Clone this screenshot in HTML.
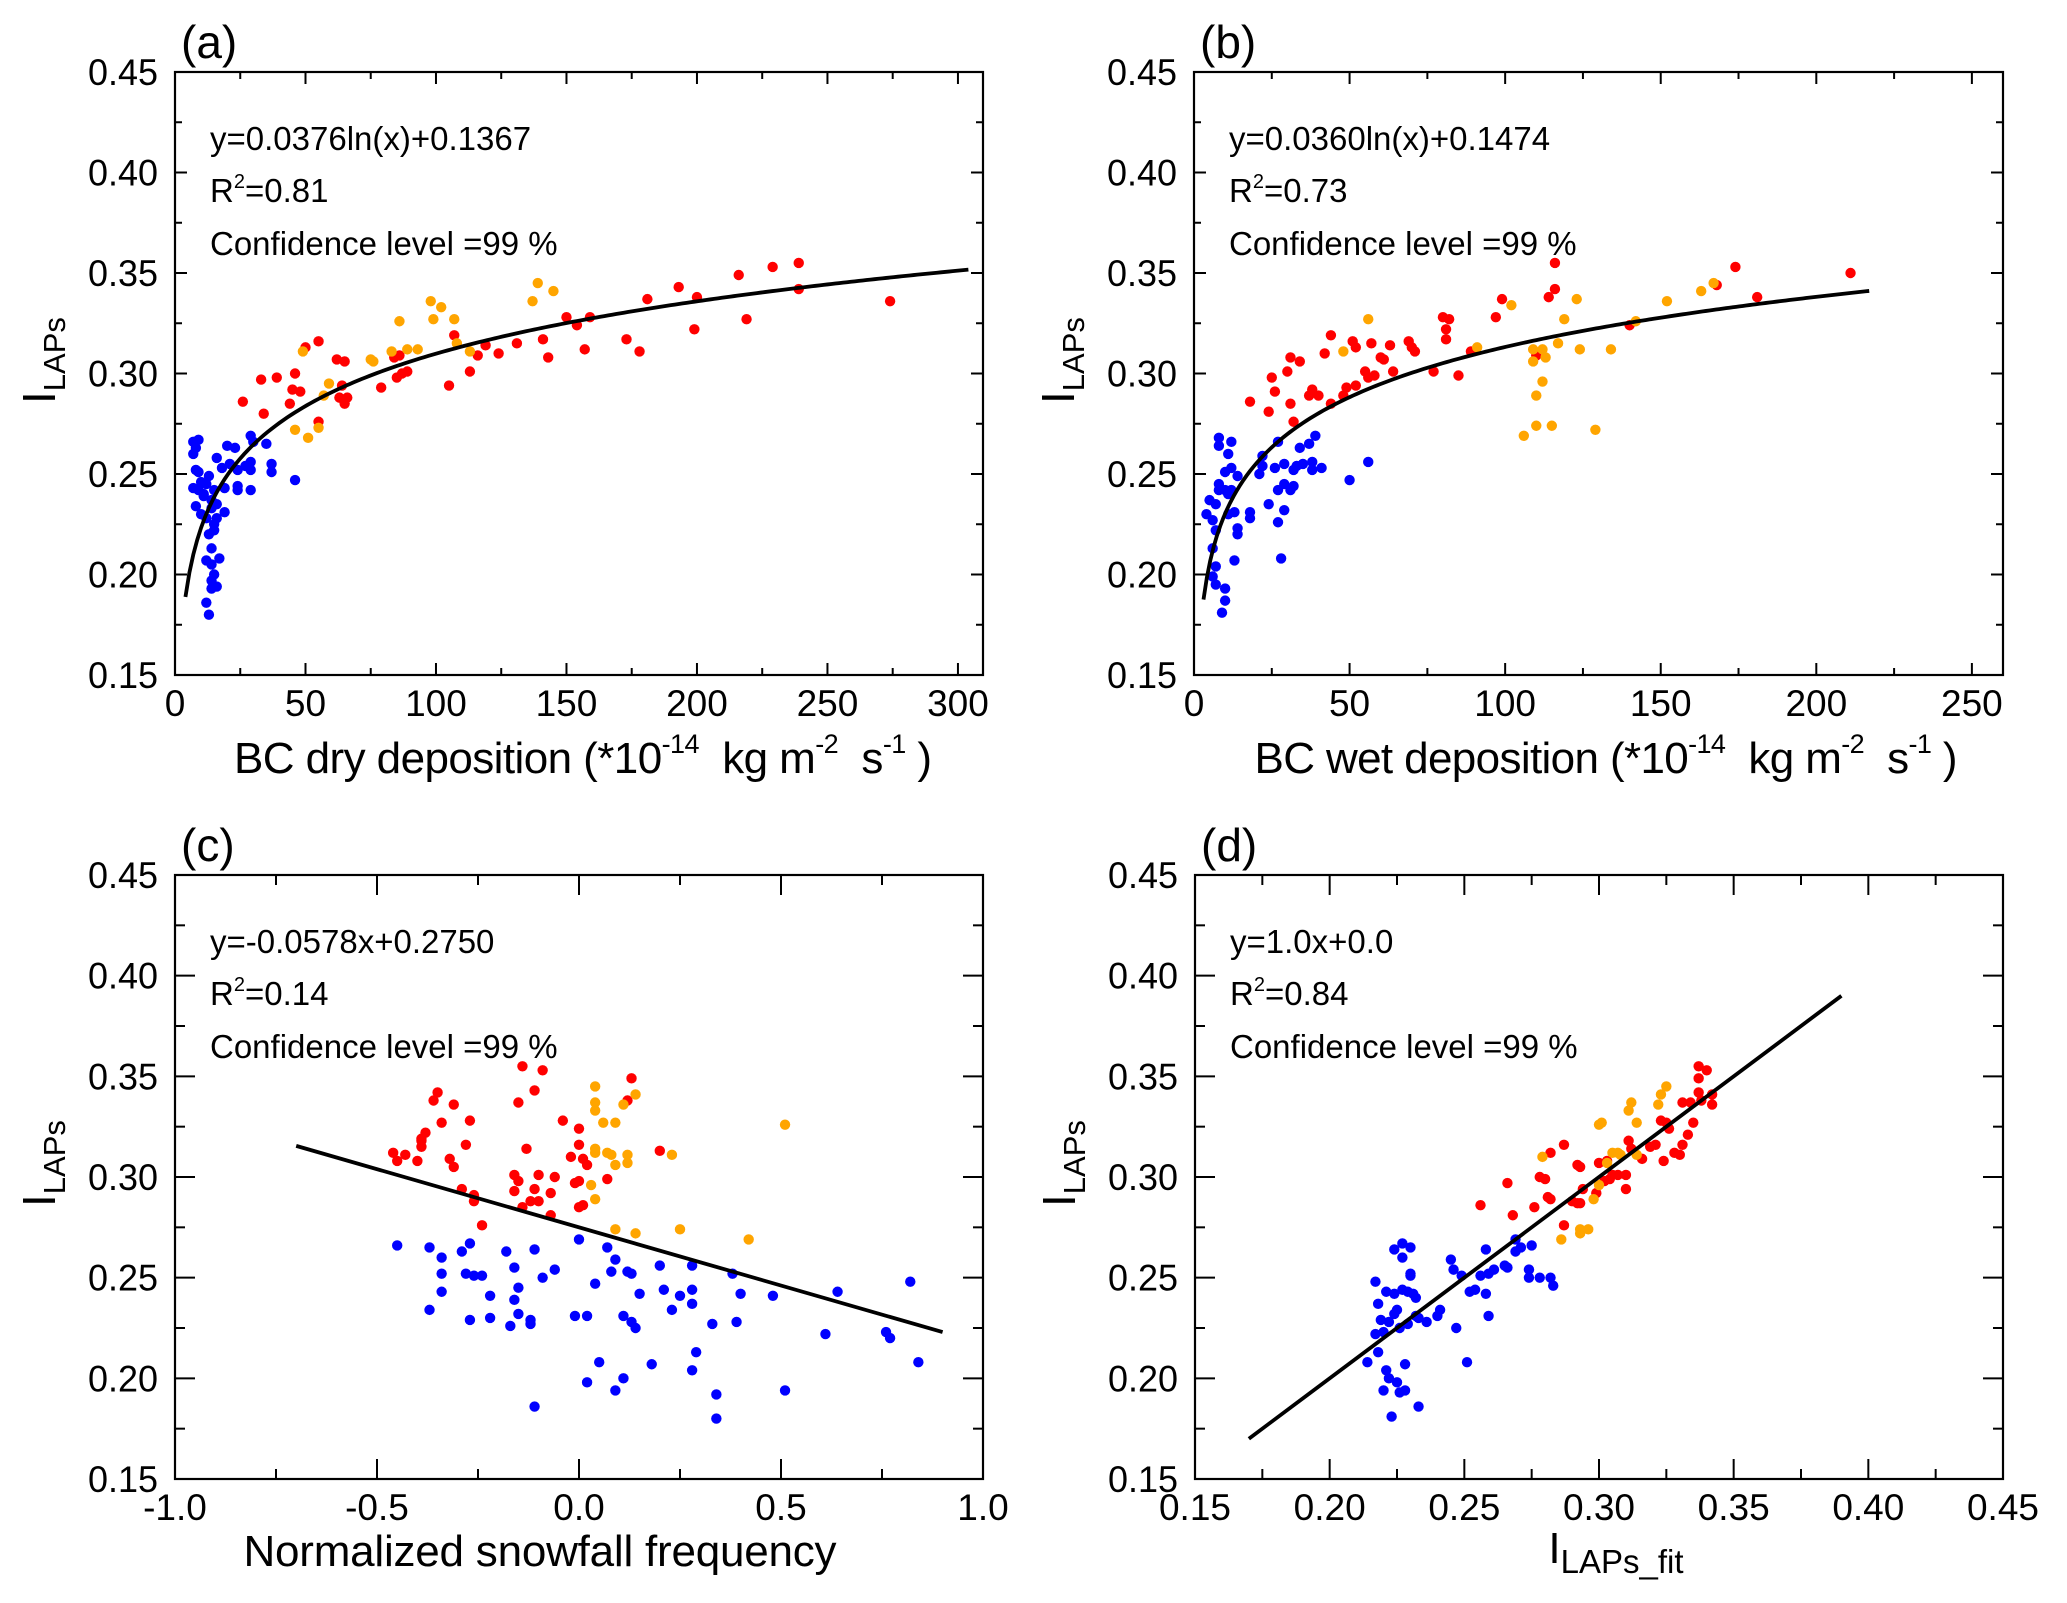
<!DOCTYPE html>
<html><head><meta charset="utf-8"><title>ILAPs scatter panels</title>
<style>html,body{margin:0;padding:0;background:#fff}svg{display:block}text{font-family:"Liberation Sans",Arial,sans-serif;fill:#000}</style>
</head><body>
<svg id="fig" xmlns="http://www.w3.org/2000/svg" width="2067" height="1603" viewBox="0 0 2067 1603"></svg>
<script>
// ---------- DATA ----------
const aBlue=[[7,0.266],[9,0.267],[8,0.263],[7,0.260],[8,0.252],[9,0.251],[7,0.243],[9,0.242],[11,0.240],[8,0.234],[10,0.230],[12,0.245],[13,0.249],[14,0.237],[12,0.228],[14,0.233],[15,0.225],[15,0.222],[13,0.220],[16,0.228],[14,0.213],[12,0.207],[14,0.205],[15,0.200],[14,0.197],[16,0.194],[14,0.193],[12,0.186],[13,0.180],[17,0.208],[16,0.258],[18,0.253],[19,0.243],[19,0.231],[20,0.264],[21,0.255],[23,0.263],[24,0.252],[24,0.244],[24,0.242],[27,0.254],[29,0.269],[29,0.256],[29,0.252],[29,0.242],[30,0.266],[35,0.265],[37,0.255],[37,0.251],[46,0.247],[15,0.242],[16,0.235],[10,0.246],[11,0.239]];
const aRed=[[26,0.286],[33,0.297],[34,0.280],[39,0.298],[44,0.285],[45,0.292],[46,0.300],[48,0.291],[50,0.313],[55,0.316],[55,0.276],[62,0.307],[63,0.288],[64,0.294],[65,0.306],[65,0.285],[66,0.288],[79,0.293],[85,0.298],[86,0.309],[87,0.300],[89,0.301],[84,0.308],[105,0.294],[107,0.319],[113,0.301],[116,0.309],[119,0.314],[124,0.310],[131,0.315],[141,0.317],[143,0.308],[150,0.328],[154,0.324],[157,0.312],[159,0.328],[173,0.317],[178,0.311],[181,0.337],[193,0.343],[199,0.322],[200,0.338],[216,0.349],[219,0.327],[229,0.353],[239,0.355],[239,0.342],[274,0.336]];
const aOrange=[[46,0.272],[49,0.311],[51,0.268],[55,0.273],[57,0.289],[59,0.295],[75,0.307],[76,0.306],[83,0.311],[86,0.326],[89,0.312],[93,0.312],[98,0.336],[99,0.327],[102,0.333],[107,0.327],[108,0.315],[113,0.311],[137,0.336],[139,0.345],[145,0.341]];
const aFit=[0.0376,0.1367,4,304];
const aXTicks=[0,50,100,150,200,250,300];
const bBlue=[[4,0.230],[5,0.237],[6,0.227],[6,0.213],[7,0.235],[8,0.268],[8,0.264],[8,0.245],[8,0.242],[7,0.222],[7,0.204],[6,0.199],[7,0.195],[10,0.193],[10,0.187],[9,0.181],[10,0.251],[10,0.242],[11,0.260],[12,0.266],[11,0.240],[11,0.230],[12,0.253],[12,0.242],[13,0.231],[14,0.220],[14,0.223],[13,0.207],[14,0.249],[18,0.228],[18,0.231],[21,0.250],[22,0.254],[22,0.259],[24,0.235],[26,0.253],[27,0.266],[27,0.242],[27,0.226],[28,0.208],[29,0.255],[29,0.232],[29,0.245],[31,0.242],[32,0.244],[32,0.252],[33,0.254],[34,0.263],[35,0.255],[37,0.265],[38,0.256],[38,0.252],[39,0.269],[41,0.253],[50,0.247],[56,0.256]];
const bRed=[[18,0.286],[24,0.281],[25,0.298],[26,0.291],[30,0.301],[31,0.308],[31,0.285],[32,0.276],[34,0.306],[37,0.289],[38,0.292],[40,0.289],[42,0.310],[44,0.285],[44,0.319],[48,0.289],[49,0.293],[51,0.316],[52,0.294],[52,0.313],[55,0.301],[56,0.298],[57,0.315],[58,0.299],[60,0.308],[61,0.307],[63,0.314],[64,0.301],[69,0.316],[70,0.313],[71,0.311],[77,0.301],[80,0.328],[81,0.322],[81,0.317],[82,0.327],[85,0.299],[89,0.311],[97,0.328],[99,0.337],[110,0.309],[114,0.338],[116,0.355],[116,0.342],[140,0.324],[168,0.344],[174,0.353],[181,0.338],[211,0.350]];
const bOrange=[[48,0.311],[56,0.327],[91,0.313],[102,0.334],[106,0.269],[109,0.306],[109,0.312],[110,0.274],[110,0.289],[112,0.296],[112,0.312],[113,0.308],[115,0.274],[117,0.315],[119,0.327],[123,0.337],[124,0.312],[129,0.272],[134,0.312],[142,0.326],[152,0.336],[163,0.341],[167,0.345]];
const bFit=[0.0360,0.1474,3.05,217];
const bXTicks=[0,50,100,150,200,250];
const cBlue=[[-0.45,0.266],[-0.37,0.265],[-0.34,0.260],[-0.34,0.252],[-0.34,0.243],[-0.37,0.234],[-0.29,0.263],[-0.27,0.267],[-0.28,0.252],[-0.26,0.251],[-0.24,0.251],[-0.27,0.229],[-0.22,0.241],[-0.22,0.230],[-0.18,0.263],[-0.16,0.255],[-0.16,0.239],[-0.15,0.245],[-0.17,0.226],[-0.15,0.232],[-0.12,0.229],[-0.12,0.227],[-0.11,0.264],[-0.09,0.250],[-0.06,0.254],[-0.11,0.186],[-0.01,0.231],[0.00,0.269],[0.02,0.231],[0.04,0.247],[0.02,0.198],[0.05,0.208],[0.07,0.265],[0.09,0.259],[0.08,0.253],[0.09,0.194],[0.11,0.200],[0.11,0.231],[0.12,0.253],[0.13,0.252],[0.13,0.228],[0.14,0.225],[0.15,0.242],[0.18,0.207],[0.20,0.256],[0.21,0.244],[0.23,0.234],[0.25,0.241],[0.28,0.256],[0.28,0.244],[0.28,0.237],[0.28,0.204],[0.29,0.213],[0.33,0.227],[0.34,0.192],[0.34,0.180],[0.38,0.252],[0.40,0.242],[0.39,0.228],[0.48,0.241],[0.51,0.194],[0.61,0.222],[0.64,0.243],[0.76,0.223],[0.77,0.220],[0.82,0.248],[0.84,0.208]];
const cRed=[[-0.46,0.312],[-0.45,0.308],[-0.43,0.311],[-0.40,0.308],[-0.39,0.318],[-0.39,0.319],[-0.39,0.315],[-0.38,0.322],[-0.36,0.338],[-0.35,0.342],[-0.34,0.327],[-0.32,0.309],[-0.31,0.305],[-0.31,0.336],[-0.28,0.316],[-0.27,0.328],[-0.29,0.294],[-0.26,0.291],[-0.26,0.288],[-0.24,0.276],[-0.16,0.301],[-0.15,0.298],[-0.16,0.293],[-0.15,0.337],[-0.14,0.355],[-0.14,0.285],[-0.13,0.314],[-0.12,0.288],[-0.11,0.294],[-0.11,0.343],[-0.10,0.288],[-0.10,0.301],[-0.09,0.353],[-0.07,0.292],[-0.07,0.281],[-0.06,0.300],[-0.04,0.328],[-0.02,0.310],[-0.01,0.297],[0.00,0.285],[0.00,0.324],[0.00,0.298],[0.00,0.316],[0.01,0.309],[0.01,0.286],[0.02,0.306],[0.07,0.299],[0.12,0.338],[0.13,0.349],[0.20,0.313]];
const cOrange=[[0.03,0.296],[0.04,0.312],[0.04,0.289],[0.04,0.337],[0.04,0.333],[0.04,0.345],[0.04,0.314],[0.06,0.327],[0.07,0.312],[0.08,0.311],[0.09,0.327],[0.09,0.306],[0.09,0.274],[0.11,0.336],[0.12,0.307],[0.12,0.311],[0.14,0.272],[0.14,0.341],[0.23,0.311],[0.25,0.274],[0.42,0.269],[0.51,0.326]];
const cFit=[-0.0578,0.2750,-0.7,0.9];
const cXTicks=[-1.0,-0.5,0.0,0.5,1.0];
const dBlue=[[0.214,0.208],[0.217,0.222],[0.218,0.213],[0.217,0.248],[0.218,0.237],[0.219,0.229],[0.220,0.223],[0.220,0.194],[0.221,0.243],[0.221,0.204],[0.222,0.200],[0.222,0.228],[0.223,0.181],[0.224,0.242],[0.224,0.232],[0.224,0.264],[0.225,0.234],[0.225,0.198],[0.226,0.193],[0.226,0.225],[0.227,0.244],[0.227,0.267],[0.227,0.260],[0.228,0.207],[0.228,0.194],[0.229,0.243],[0.229,0.227],[0.230,0.251],[0.230,0.252],[0.230,0.265],[0.231,0.242],[0.232,0.240],[0.232,0.231],[0.233,0.186],[0.233,0.230],[0.236,0.228],[0.240,0.231],[0.241,0.234],[0.245,0.259],[0.246,0.254],[0.247,0.225],[0.249,0.251],[0.251,0.208],[0.252,0.243],[0.254,0.244],[0.256,0.251],[0.258,0.242],[0.258,0.264],[0.259,0.231],[0.259,0.252],[0.261,0.254],[0.265,0.256],[0.266,0.255],[0.269,0.269],[0.269,0.263],[0.271,0.265],[0.274,0.254],[0.274,0.250],[0.275,0.266],[0.278,0.250],[0.282,0.250],[0.283,0.246]];
const dRed=[[0.256,0.286],[0.266,0.297],[0.268,0.281],[0.276,0.285],[0.278,0.300],[0.280,0.299],[0.281,0.290],[0.282,0.312],[0.282,0.289],[0.287,0.316],[0.287,0.276],[0.290,0.288],[0.292,0.287],[0.292,0.306],[0.293,0.305],[0.293,0.287],[0.294,0.294],[0.299,0.292],[0.300,0.307],[0.302,0.298],[0.303,0.308],[0.304,0.299],[0.305,0.301],[0.307,0.301],[0.310,0.301],[0.310,0.294],[0.311,0.318],[0.312,0.314],[0.316,0.309],[0.319,0.315],[0.321,0.316],[0.323,0.328],[0.324,0.308],[0.325,0.327],[0.326,0.324],[0.328,0.312],[0.330,0.311],[0.331,0.316],[0.331,0.337],[0.333,0.321],[0.334,0.337],[0.335,0.327],[0.337,0.342],[0.337,0.349],[0.337,0.355],[0.338,0.338],[0.340,0.353],[0.342,0.341],[0.342,0.336]];
const dOrange=[[0.279,0.310],[0.286,0.269],[0.293,0.272],[0.293,0.274],[0.296,0.274],[0.298,0.289],[0.300,0.296],[0.300,0.326],[0.301,0.327],[0.303,0.307],[0.305,0.312],[0.307,0.312],[0.308,0.311],[0.311,0.333],[0.312,0.337],[0.314,0.327],[0.314,0.311],[0.322,0.336],[0.323,0.341],[0.325,0.345]];
const dFit=[1.0,0.0,0.17,0.39];
const dXTicks=[0.15,0.20,0.25,0.30,0.35,0.40,0.45];
const yTicks=[0.15,0.20,0.25,0.30,0.35,0.40,0.45];

// ---------- DRAWING ----------
const NS="http://www.w3.org/2000/svg";
const svg=document.getElementById('fig');
function mk(tag,attrs,parent){const e=document.createElementNS(NS,tag);for(const k in attrs)e.setAttribute(k,attrs[k]);(parent||svg).appendChild(e);return e;}

function panel(o){
  const g=mk('g',{});
  
  
  const sx=v=>o.L+(v-o.x0)/(o.x1-o.x0)*(o.R-o.L);
  const sy=v=>o.B-(v-0.15)/(0.30)*(o.B-o.T);
  const tg=mk('g',{stroke:'#000','stroke-width':2},g);
  
  
  const xs=o.xTicks, step=xs[1]-xs[0];
  for(let i=0;i<xs.length;i++){
    for(const v of [xs[i], xs[i]+step/2]){
      if(v>o.x1+1e-9) continue;
      const maj=(v===xs[i]);const len=maj?o.maj:o.min;const X=sx(v);
      mk('line',{x1:X,y1:o.B,x2:X,y2:o.B-len},tg);
      mk('line',{x1:X,y1:o.T,x2:X,y2:o.T+len},tg);
    }
  }
  for(let i=0;i<yTicks.length;i++){
    for(const v of [yTicks[i], yTicks[i]+0.025]){
      if(v>0.45+1e-9) continue;
      const maj=(v===yTicks[i]);const len=maj?o.maj:o.min;const Y=sy(v);
      mk('line',{x1:o.L,y1:Y,x2:o.L+len,y2:Y},tg);
      mk('line',{x1:o.R,y1:Y,x2:o.R-len,y2:Y},tg);
    }
  }
  yTicks.forEach(v=>{const t=mk('text',{x:o.L-17,y:sy(v)+13,'text-anchor':'end','font-size':37,textLength:70,lengthAdjust:'spacingAndGlyphs'},g);t.textContent=v.toFixed(2);
    
    });
  xs.forEach(v=>{const t=mk('text',{x:sx(v),y:o.B+41,'text-anchor':'middle','font-size':37},g);t.textContent=o.fmt(v);
    
    });
  const series=[[o.blue,'#0000ff','blue'],[o.red,'#ff0000','red'],[o.orange,'#ffa500','orange']];
  series.forEach(([pts,col,nm])=>{
    const sg=mk('g',{fill:col},g);
    
    
    pts.forEach(p=>{const c=mk('circle',{cx:sx(p[0]),cy:sy(p[1]),r:5.2},sg);
      
      });
  });
  const f=o.fit;let d='';
  const n=o.log?200:1;
  for(let i=0;i<=n;i++){const x=f[2]+(f[3]-f[2])*i/n;const y=o.log?f[0]*Math.log(x)+f[1]:f[0]*x+f[1];d+=(i?'L':'M')+sx(x).toFixed(2)+' '+sy(y).toFixed(2);}
  const fl=mk('path',{d:d,fill:'none',stroke:'#000','stroke-width':3.8},g);
  
  
  const fr=mk('rect',{x:o.L,y:o.T,width:o.R-o.L,height:o.B-o.T,fill:'none',stroke:'#000','stroke-width':2.2},g);
  
  
  const ax=o.L+35, ay=o.T+78;
  const t1=mk('text',{x:ax,y:ay,'font-size':33},g);t1.textContent=o.eq;
  
  
  const t2=mk('text',{x:ax,y:ay+52,'font-size':33},g);
  t2.innerHTML='R<tspan font-size="20" dy="-14">2</tspan><tspan dy="14">='+o.r2+'</tspan>';
  
  
  const t3=mk('text',{x:ax,y:ay+105,'font-size':33},g);t3.textContent='Confidence level =99 %';
  
  
  const pl=mk('text',{x:o.L+6,y:o.T-14,'font-size':46},g);pl.textContent='('+o.id+')';
  
  
  const yt=mk('text',{x:0,y:0,'font-size':46,transform:'translate('+(o.L-120)+','+(o.T+332)+') rotate(-90)'},g);
  yt.innerHTML='I<tspan font-size="31" dy="10">LAPs</tspan>';
  
  
  const xt=mk('text',{x:o.xtx,y:o.xty,'text-anchor':'middle','font-size':o.xtfs},g);
  xt.innerHTML=o.xtitle;
  if(o.xtlen) xt.setAttribute('textLength',o.xtlen);
  
  
}
const sup=s=>'<tspan font-size="27" dy="-20">'+s+'</tspan><tspan dy="20">';
const xa='BC dry deposition (*10'+sup('-14')+'&#160; kg m</tspan>'+sup('-2')+'&#160; s</tspan>'+sup('-1')+' )</tspan>';
const xb='BC wet deposition (*10'+sup('-14')+'&#160; kg m</tspan>'+sup('-2')+'&#160; s</tspan>'+sup('-1')+' )</tspan>';
panel({id:'a',L:175,R:983,T:72,B:675,x0:0,x1:309.6,xTicks:aXTicks,fmt:v=>String(v),blue:aBlue,red:aRed,orange:aOrange,fit:aFit,log:true,maj:12,min:7,
  eq:'y=0.0376ln(x)+0.1367',r2:'0.81',xtitle:xa,xtx:583,xty:773,xtfs:44,xtlen:698});
panel({id:'b',L:1194,R:2003,T:72,B:675,x0:0,x1:260,xTicks:bXTicks,fmt:v=>String(v),blue:bBlue,red:bRed,orange:bOrange,fit:bFit,log:true,maj:12,min:7,
  eq:'y=0.0360ln(x)+0.1474',r2:'0.73',xtitle:xb,xtx:1606,xty:773,xtfs:44,xtlen:703});
panel({id:'c',L:175,R:983,T:875,B:1479,x0:-1,x1:1,xTicks:cXTicks,fmt:v=>v.toFixed(1),blue:cBlue,red:cRed,orange:cOrange,fit:cFit,log:false,maj:20,min:10,
  eq:'y=-0.0578x+0.2750',r2:'0.14',xtitle:'Normalized snowfall frequency',xtx:540,xty:1566,xtfs:44,xtlen:593});
panel({id:'d',L:1195,R:2003,T:875,B:1479,x0:0.15,x1:0.45,xTicks:dXTicks,fmt:v=>v.toFixed(2),blue:dBlue,red:dRed,orange:dOrange,fit:dFit,log:false,maj:20,min:10,
  eq:'y=1.0x+0.0',r2:'0.84',xtitle:'I<tspan font-size="33" dy="10">LAPs_fit</tspan>',xtx:1616,xty:1563,xtfs:44});
</script>
</body></html>
